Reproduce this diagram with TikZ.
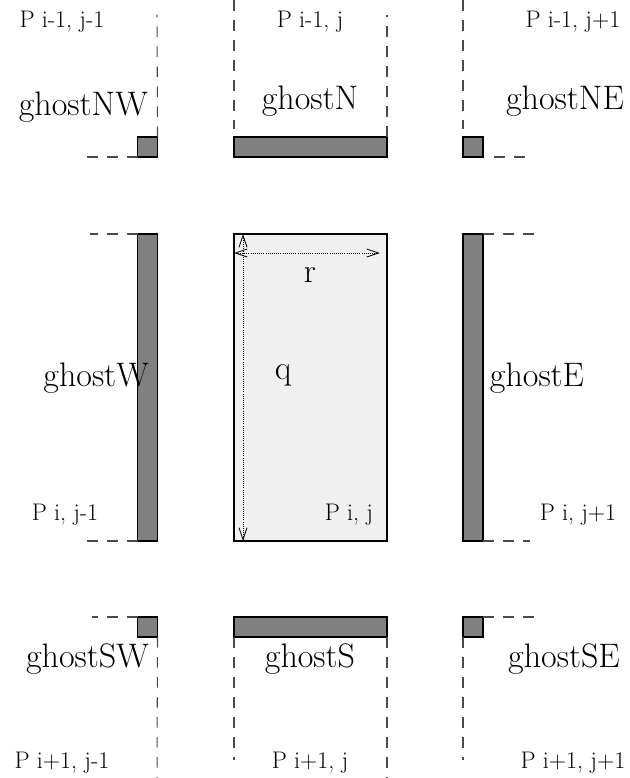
\documentclass[tikz,border=0pt]{standalone}
\usetikzlibrary{arrows.meta}
\definecolor{ghostgray}{HTML}{808080}
\definecolor{corefill}{HTML}{F0F0F0}
\definecolor{dashgray}{HTML}{4A4A4A}
\begin{document}
\begin{tikzpicture}[x=0.75pt,y=-0.75pt,
  ghostbox/.style={draw=black,fill=ghostgray,line width=1.3pt,inner sep=0pt,outer sep=0pt},
  corebox/.style={draw=black,fill=corefill,line width=1.3pt,inner sep=0pt,outer sep=0pt},
  border/.style={draw=dashgray,line width=0.8pt,dash pattern=on 8pt off 7pt},
  dim/.style={draw=black,line width=0.6pt,densely dotted,{Straight Barb[length=9pt,width=6pt]}-{Straight Barb[length=9pt,width=6pt]}},
  big/.style={font=\fontsize{25.5}{30}\selectfont,inner sep=0pt},
  small/.style={font=\fontsize{18}{21}\selectfont,inner sep=0pt}]
\useasboundingbox (0,0) rectangle (629,778);
% boxes
\node[ghostbox,minimum width=15pt,minimum height=15pt] (NW) at (147.5,147) {};
\node[ghostbox,minimum width=114.75pt,minimum height=15pt] (N) at (310.5,147) {};
\node[ghostbox,minimum width=15pt,minimum height=15pt] (NE) at (473,147) {};
\node[ghostbox,minimum width=15pt,minimum height=230.25pt] (W) at (147.5,387.5) {};
\node[corebox,minimum width=114.75pt,minimum height=230.25pt] (C) at (310.5,387.5) {};
\node[ghostbox,minimum width=15pt,minimum height=230.25pt] (E) at (473,387.5) {};
\node[ghostbox,minimum width=15pt,minimum height=15pt] (SW) at (147.5,627) {};
\node[ghostbox,minimum width=114.75pt,minimum height=15pt] (S) at (310.5,627) {};
\node[ghostbox,minimum width=15pt,minimum height=15pt] (SE) at (473,627) {};
% dashed boundaries
\coordinate (nwv) at (157,15);  \coordinate (nwh) at (80,157);
\coordinate (nl0) at (234,0);   \coordinate (nl1) at (234,129);
\coordinate (nr) at (387,15);
\coordinate (ne0) at (463,0);   \coordinate (ne1) at (463,129);
\coordinate (ne2) at (494,157); \coordinate (neh) at (530,157);
\coordinate (wt) at (90,234);   \coordinate (wb) at (80,541);
\coordinate (et) at (540,234);  \coordinate (eb) at (530,541);
\coordinate (swh) at (92,617);  \coordinate (swv) at (157,778);
\coordinate (sl) at (234,760);  \coordinate (sr) at (387,778);
\coordinate (seh) at (540,617); \coordinate (sev) at (463,760);
\draw[border] (NW.north east) -- (nwv);
\draw[border] (NW.south west) -- (nwh);
\draw[border] (nl0) -- (nl1);
\draw[border] (N.north east) -- (nr);
\draw[border] (ne0) -- (ne1);
\draw[border] (ne2) -- (neh);
\draw[border] (W.north west) -- (wt);
\draw[border] (W.south west) -- (wb);
\draw[border] (E.north east) -- (et);
\draw[border] (E.south east) -- (eb);
\draw[border] (SW.north west) -- (swh);
\draw[border] (SW.south east) -- (swv);
\draw[border] (S.south west) -- (sl);
\draw[border] (S.south east) -- (sr);
\draw[border] (SE.north east) -- (seh);
\draw[border] (SE.south west) -- (sev);
% dimension arrows
\coordinate (rl) at (234,253); \coordinate (rr) at (380,253);
\coordinate (qt) at (243,234); \coordinate (qb) at (243,541);
\draw[dim] (rl) -- (rr);
\draw[dim] (qt) -- (qb);
% labels
\node[small] (p11) at (62,22) {P i-1, j-1};
\node[small] (p12) at (310,22) {P i-1, j};
\node[small] (p13) at (573,22) {P i-1, j+1};
\node[big,anchor=east] (gNW) at (148,107) {ghostNW};
\node[big] (gN) at (310,101) {ghostN};
\node[big] (gNE) at (565,101) {ghostNE};
\node[big] (r) at (310,275) {r};
\node[big] (q) at (283,375) {q};
\node[big,anchor=east] (gW) at (149,378) {ghostW};
\node[big] (gE) at (537,378) {ghostE};
\node[small] (p21) at (65,515) {P i, j-1};
\node[small] (p22) at (349,515) {P i, j};
\node[small] (p23) at (578,515) {P i, j+1};
\node[big,anchor=east] (gSW) at (149,659) {ghostSW};
\node[big] (gS) at (310,659) {ghostS};
\node[big] (gSE) at (564,659) {ghostSE};
\node[small] (p31) at (62,763) {P i+1, j-1};
\node[small] (p32) at (310,763) {P i+1, j};
\node[small] (p33) at (573,763) {P i+1, j+1};
\end{tikzpicture}
\end{document}
